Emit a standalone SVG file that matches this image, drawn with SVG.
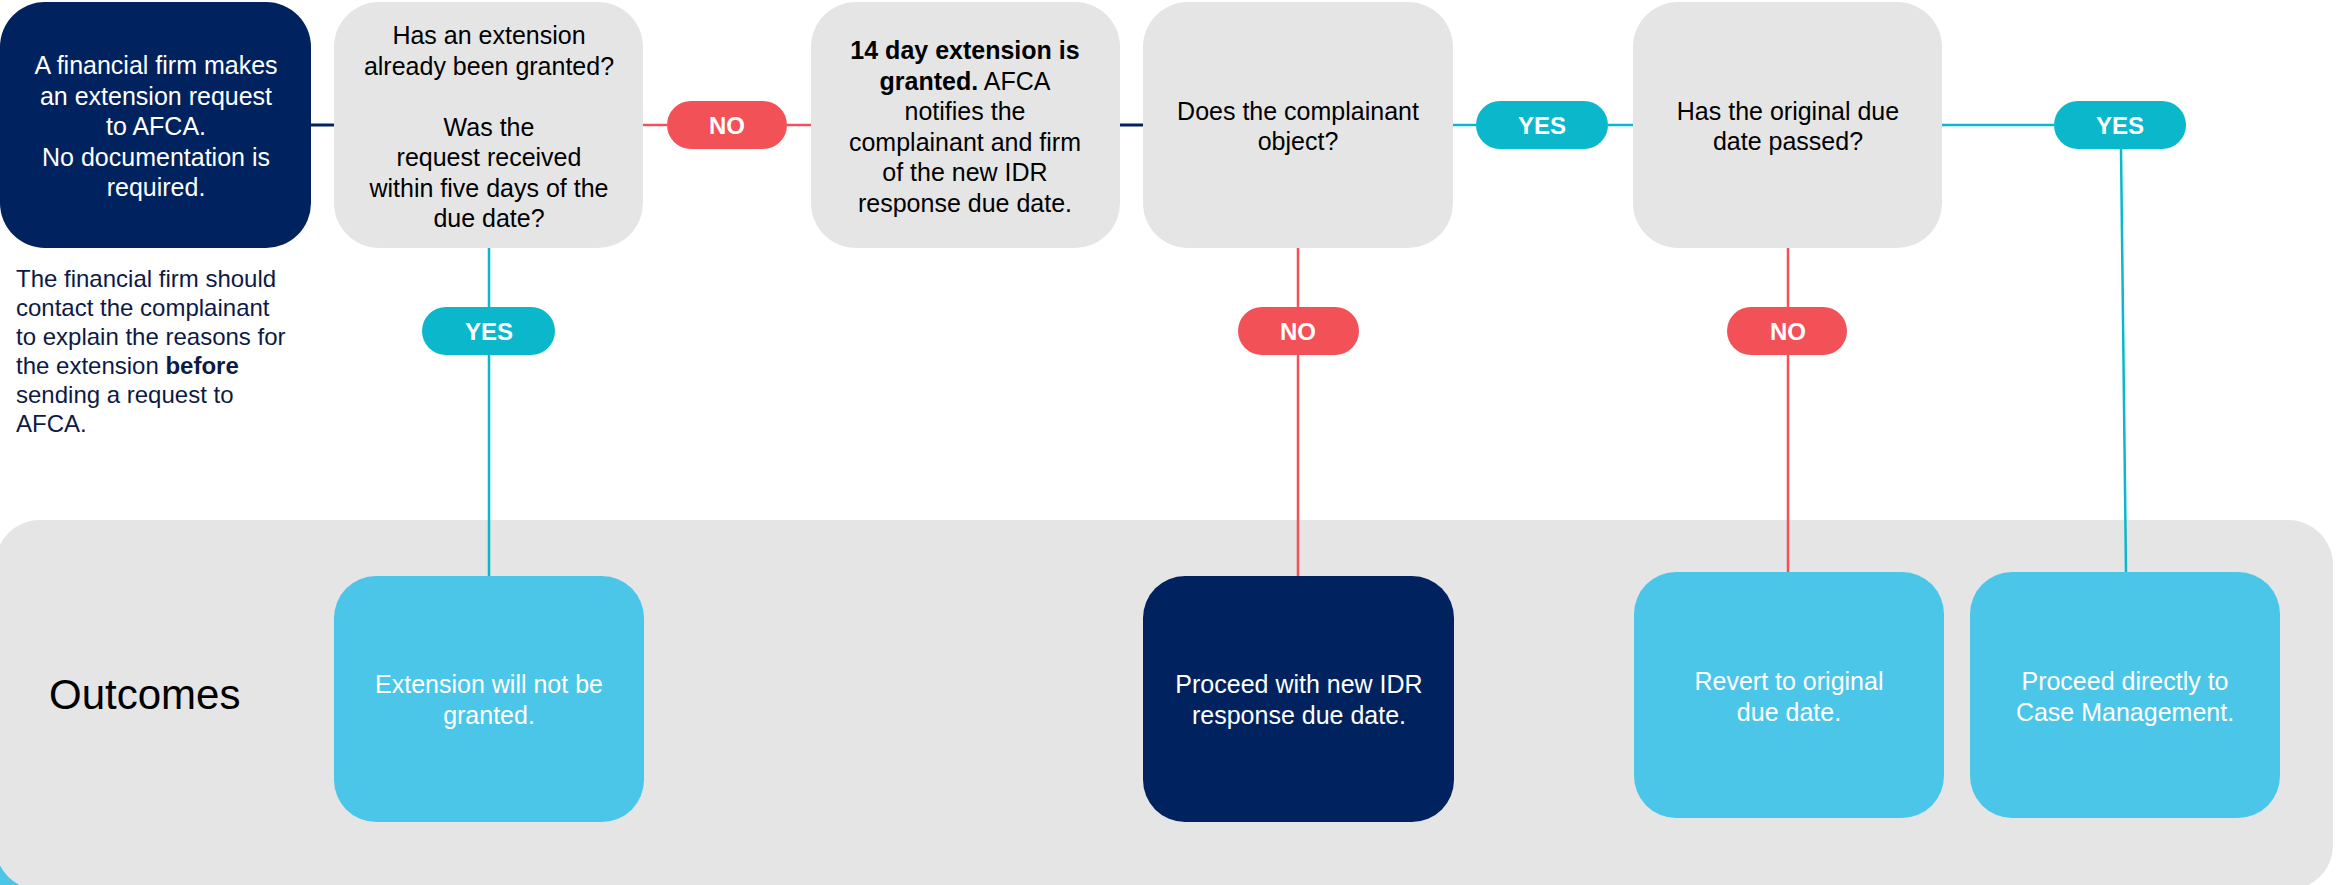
<svg xmlns="http://www.w3.org/2000/svg" width="2336" height="885" viewBox="0 0 2336 885">
<style>
text{font-family:"Liberation Sans",Arial,Helvetica,sans-serif;}
.t{font-size:25px;text-anchor:middle;}
.dark{fill:#000000;}
.white{fill:#ffffff;}
.side{font-size:24px;fill:#0d1a45;}
.pill{font-size:24px;font-weight:bold;fill:#ffffff;text-anchor:middle;}
.navy{fill:#002360;}
.gray{fill:#e5e5e5;}
.lblue{fill:#4cc6e8;}
.red{fill:#f15157;}
.teal{fill:#0bb8cb;}
.cn{stroke:#002360;stroke-width:3;fill:none;}
.cr{stroke:#f15157;stroke-width:2.5;fill:none;}
.ct{stroke:#0bb8cb;stroke-width:2.5;fill:none;}
</style>
<rect width="2336" height="885" fill="#ffffff"/>
<g id="outcomes-panel">
<rect x="0" y="850" width="40" height="35" class="lblue"/>
<rect x="-5" y="520" width="2338" height="370" rx="45" class="gray"/>
<text x="49" y="709" font-size="42" class="dark">Outcomes</text>
</g>
<g id="connectors">
<line class="cn" x1="311" y1="125" x2="334" y2="125"/>
<line class="cr" x1="643" y1="125" x2="667" y2="125"/>
<line class="cr" x1="787" y1="125" x2="811" y2="125"/>
<line class="cn" x1="1120" y1="125" x2="1143" y2="125"/>
<line class="ct" x1="1453" y1="125" x2="1476" y2="125"/>
<line class="ct" x1="1608" y1="125" x2="1633" y2="125"/>
<line class="ct" x1="1942" y1="125" x2="2054" y2="125"/>
<line class="ct" x1="489" y1="248" x2="489" y2="577"/>
<line class="cr" x1="1298" y1="248" x2="1298" y2="577"/>
<line class="cr" x1="1788" y1="248" x2="1788" y2="573"/>
<line class="ct" x1="2121" y1="149" x2="2126" y2="573"/>
</g>
<g id="n-start">
<rect x="0" y="2" width="311" height="246" rx="45" class="navy"/>
<text class="t white"><tspan x="156" y="74">A financial firm makes</tspan><tspan x="156" y="104.5">an extension request</tspan><tspan x="156" y="135">to AFCA.</tspan><tspan x="156" y="165.5">No documentation is</tspan><tspan x="156" y="196">required.</tspan></text>
</g>
<g id="n-note">
<text class="side"><tspan x="16" y="287">The financial firm should</tspan><tspan x="16" y="316">contact the complainant</tspan><tspan x="16" y="345">to explain the reasons for</tspan><tspan x="16" y="374">the extension <tspan font-weight="bold">before</tspan></tspan><tspan x="16" y="403">sending a request to</tspan><tspan x="16" y="432">AFCA.</tspan></text>
</g>
<g id="n-q1">
<rect x="334" y="2" width="309" height="246" rx="45" class="gray"/>
<text class="t dark"><tspan x="489" y="44">Has an extension</tspan><tspan x="489" y="74.5">already been granted?</tspan><tspan x="489" y="135.5">Was the</tspan><tspan x="489" y="166">request received</tspan><tspan x="489" y="196.5">within five days of the</tspan><tspan x="489" y="227">due date?</tspan></text>
</g>
<g id="n-granted">
<rect x="811" y="2" width="309" height="246" rx="45" class="gray"/>
<text class="t dark"><tspan x="965" y="59" font-weight="bold">14 day extension is</tspan><tspan x="965" y="89.5"><tspan font-weight="bold">granted.</tspan> AFCA</tspan><tspan x="965" y="120">notifies the</tspan><tspan x="965" y="150.5">complainant and firm</tspan><tspan x="965" y="181">of the new IDR</tspan><tspan x="965" y="211.5">response due date.</tspan></text>
</g>
<g id="n-q2">
<rect x="1143" y="2" width="310" height="246" rx="45" class="gray"/>
<text class="t dark"><tspan x="1298" y="119.5">Does the complainant</tspan><tspan x="1298" y="150">object?</tspan></text>
</g>
<g id="n-q3">
<rect x="1633" y="2" width="309" height="246" rx="45" class="gray"/>
<text class="t dark"><tspan x="1788" y="119.5">Has the original due</tspan><tspan x="1788" y="150">date passed?</tspan></text>
</g>
<g id="p-no1">
<rect x="667" y="101" width="120" height="48" rx="24" class="red"/>
<text x="727" y="134" class="pill">NO</text>
</g>
<g id="p-yes1">
<rect x="422" y="307" width="133" height="48" rx="24" class="teal"/>
<text x="489" y="340" class="pill">YES</text>
</g>
<g id="p-yes2">
<rect x="1476" y="101" width="132" height="48" rx="24" class="teal"/>
<text x="1542" y="134" class="pill">YES</text>
</g>
<g id="p-no2">
<rect x="1238" y="307" width="121" height="48" rx="24" class="red"/>
<text x="1298" y="340" class="pill">NO</text>
</g>
<g id="p-no3">
<rect x="1727" y="307" width="120" height="48" rx="24" class="red"/>
<text x="1788" y="340" class="pill">NO</text>
</g>
<g id="p-yes3">
<rect x="2054" y="101" width="132" height="48" rx="24" class="teal"/>
<text x="2120" y="134" class="pill">YES</text>
</g>
<g id="o-notgranted">
<rect x="334" y="576" width="310" height="246" rx="42" class="lblue"/>
<text class="t white"><tspan x="489" y="693">Extension will not be</tspan><tspan x="489" y="724">granted.</tspan></text>
</g>
<g id="o-newdate">
<rect x="1143" y="576" width="311" height="246" rx="42" class="navy"/>
<text class="t white"><tspan x="1299" y="693">Proceed with new IDR</tspan><tspan x="1299" y="724">response due date.</tspan></text>
</g>
<g id="o-revert">
<rect x="1634" y="572" width="310" height="246" rx="42" class="lblue"/>
<text class="t white"><tspan x="1789" y="690">Revert to original</tspan><tspan x="1789" y="721">due date.</tspan></text>
</g>
<g id="o-case">
<rect x="1970" y="572" width="310" height="246" rx="42" class="lblue"/>
<text class="t white"><tspan x="2125" y="690">Proceed directly to</tspan><tspan x="2125" y="721">Case Management.</tspan></text>
</g>
</svg>
